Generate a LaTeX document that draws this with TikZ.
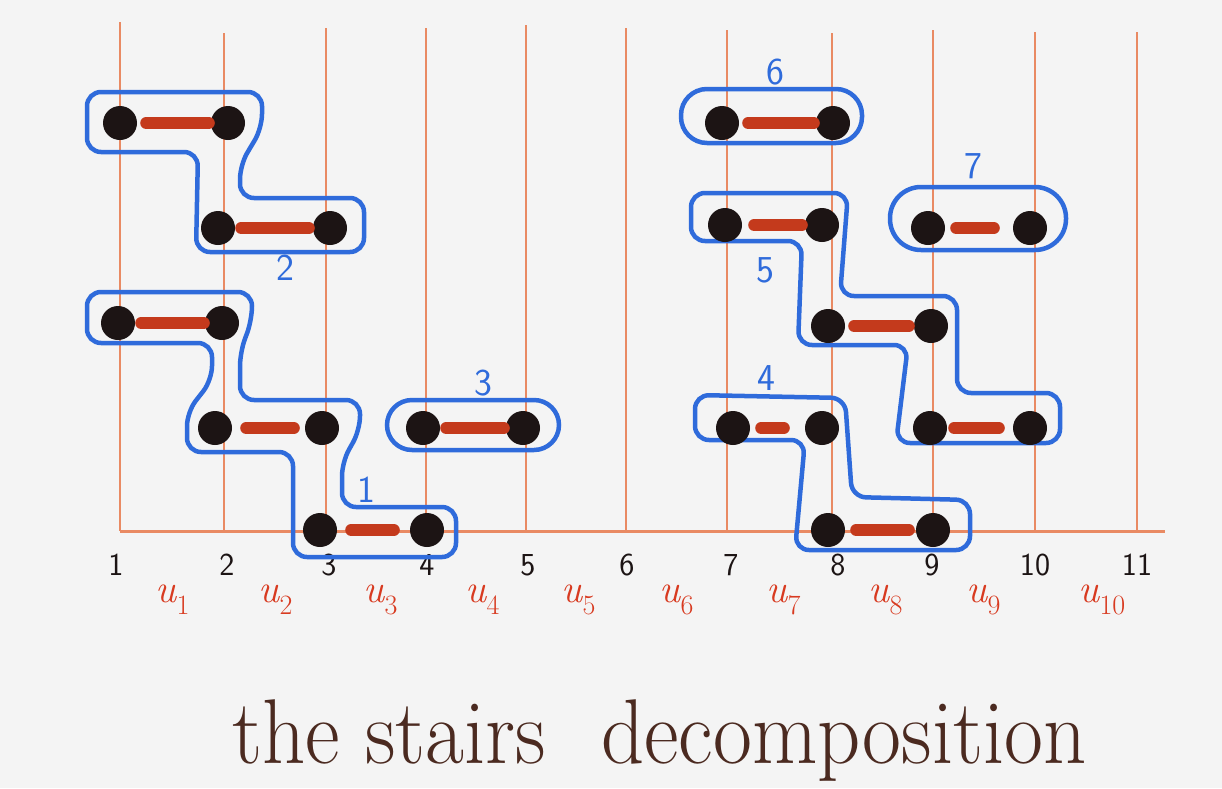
\documentclass[tikz,border=0pt]{standalone}
\usepackage{graphicx}
\definecolor{bgc}{HTML}{F4F4F4}
\definecolor{gridc}{HTML}{E98A63}
\definecolor{dotc}{HTML}{1C1414}
\definecolor{barc}{HTML}{C43A1C}
\definecolor{hullc}{HTML}{2F6BDB}
\definecolor{ulabc}{HTML}{D83A20}
\definecolor{titlec}{HTML}{4B2A20}
\newcommand{\ulbl}[1]{{\itshape\fontsize{40}{40}\selectfont u\raisebox{-0.3em}{\upshape\fontsize{28}{28}\selectfont #1}}}
\begin{document}
\begin{tikzpicture}[x=1pt,y=-1pt,
  dot/.style={circle,fill=dotc,minimum size=34pt,inner sep=0pt},
  bar/.style={line width=12pt,draw=barc,line cap=round},
  gridline/.style={draw=gridc,line width=2pt},
  hull/.style={draw=hullc,line width=4.5pt,rounded corners=14pt},
  lab/.style={text=hullc,font=\sffamily\fontsize{38}{38}\selectfont},
  axnum/.style={text=dotc,font=\sffamily\fontsize{32}{32}\selectfont},
  ulab/.style={text=ulabc}]
\fill[bgc] (0,0) rectangle (1222,788);
\useasboundingbox (0,0) rectangle (1222,788);
% vertical lines
\foreach \x/\t in {120/22,224/33,326/28,426/28,526/25,626/28,727/30,832/33,933/30,1035/32,1137/32}
  \draw[gridline] (\x,\t) -- (\x,531);
\draw[draw=gridc,line width=3pt] (120,531) -- (1165,531);
% axis numbers
\foreach \x/\n [count=\i] in {116/1,227/2,329/3,427/4,528/5,627/6,731/7,838/8,932/9,1035/10,1137/11}
  \node[axnum] (ax\i) at (\x,565) {\n};
% u labels
\foreach \x [count=\i] in {172,275,380,482,578,676,783,885,983,1095}
  \node[ulab,anchor=west] (u\i) at (\x-20,600) {\ulbl{\i}};
% blue hulls
\draw[hull] (87,92) -- (262,92) -- (262,128) -- (240,165) -- (240,198) -- (364,198) -- (364,252) -- (196,252) -- (198,152) -- (87,152) -- cycle;
\draw[hull] (87,292) -- (252,292) -- (252,320) -- (240,352) -- (240,400) -- (360,400) -- (360,430) -- (342,462) -- (342,507) -- (456,507) -- (456,557) -- (293,557) -- (293,452) -- (187,452) -- (187,412) -- (212,380) -- (212,343) -- (87,343) -- cycle;
\draw[hull,rounded corners=25pt] (387,400) rectangle (559,450);
\draw[hull,rounded corners=26pt] (681,89) rectangle (862,143);
\draw[hull,rounded corners=31pt] (890,187) rectangle (1066,250);
\draw[hull] (691,193) -- (848,193) -- (840,296) -- (957,296) -- (957,393) -- (1060,393) -- (1060,443) -- (896,443) -- (908,345) -- (798,345) -- (802,241) -- (691,241) -- cycle;
\draw[hull] (695,395) -- (845,398) -- (852,497) -- (970,500) -- (970,550) -- (795,550) -- (805,440) -- (695,440) -- cycle;
% group labels
\node[lab] (g2) at (285,268) {2};
\node[lab] (g1) at (366,490) {1};
\node[lab] (g3) at (483,383) {3};
\node[lab] (g6) at (775,72) {6};
\node[lab] (g7) at (973,166) {7};
\node[lab] (g5) at (765,270) {5};
\node[lab] (g4) at (766,378) {4};
% dots
\node[dot] (a1) at (120,123) {};
\node[dot] (a2) at (228,123) {};
\node[dot] (b1) at (218,228) {};
\node[dot] (b2) at (330,228) {};
\node[dot] (c1) at (118,323) {};
\node[dot] (c2) at (222,323) {};
\node[dot] (d1) at (215,428) {};
\node[dot] (d2) at (322,428) {};
\node[dot] (e1) at (423,428) {};
\node[dot] (e2) at (523,428) {};
\node[dot] (f1) at (320,530) {};
\node[dot] (f2) at (427,530) {};
\node[dot] (g61) at (722,123) {};
\node[dot] (g62) at (833,123) {};
\node[dot] (h1) at (725,225) {};
\node[dot] (h2) at (822,225) {};
\node[dot] (i1) at (928,228) {};
\node[dot] (i2) at (1030,228) {};
\node[dot] (j1) at (828,326) {};
\node[dot] (j2) at (931,326) {};
\node[dot] (k1) at (733,428) {};
\node[dot] (k2) at (822,428) {};
\node[dot] (l1) at (930,428) {};
\node[dot] (l2) at (1030,428) {};
\node[dot] (m1) at (828,530) {};
\node[dot] (m2) at (933,530) {};
% bars
\draw[bar,shorten <=9pt,shorten >=2pt] (a1) -- (a2);
\draw[bar,shorten <=6pt,shorten >=4pt] (b1) -- (b2);
\draw[bar,shorten <=6pt,shorten >=1pt] (c1) -- (c2);
\draw[bar,shorten <=14pt,shorten >=11pt] (d1) -- (d2);
\draw[bar,shorten <=6pt,shorten >=2pt] (e1) -- (e2);
\draw[bar,shorten <=14pt,shorten >=16pt] (f1) -- (f2);
\draw[bar,shorten <=9pt,shorten >=2pt] (g61) -- (g62);
\draw[bar,shorten <=12pt,shorten >=3pt] (h1) -- (h2);
\draw[bar,shorten <=11pt,shorten >=19pt] (i1) -- (i2);
\draw[bar,shorten <=9pt,shorten >=5pt] (j1) -- (j2);
\draw[bar,shorten <=11pt,shorten >=21pt] (k1) -- (k2);
\draw[bar,shorten <=7pt,shorten >=14pt] (l1) -- (l2);
\draw[bar,shorten <=11pt,shorten >=7pt] (m1) -- (m2);
% title
\node[text=titlec,anchor=base west,inner sep=0pt] (title) at (232,763)
  {\scalebox{0.92}[1]{\fontsize{92}{92}\selectfont the stairs\hspace{0.35em} decomposition}};
\end{tikzpicture}
\end{document}
